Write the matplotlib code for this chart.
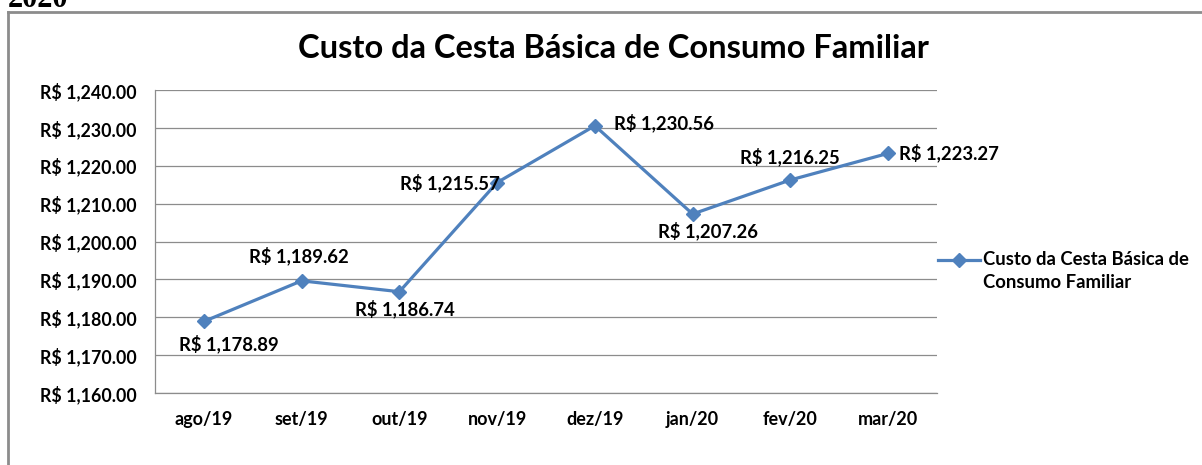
import matplotlib.pyplot as plt
from matplotlib.lines import Line2D
from matplotlib.ticker import FuncFormatter

## Data
meses = ['ago/19', 'set/19', 'out/19', 'nov/19', 'dez/19', 'jan/20', 'fev/20', 'mar/20']
custo = [1178.89, 1189.62, 1186.74, 1215.57, 1230.56, 1207.26, 1216.25, 1223.27]

serie = 'Custo da Cesta Básica de Consumo Familiar'
azul = '#4F81BD'
plt.rcParams['font.family'] = ['Lato', 'DejaVu Sans']
plt.rcParams['font.weight'] = 'bold'

W, H = 1202, 465
fig = plt.figure(figsize=(W / 100, H / 100), dpi=100)
# axes box in pixels: left 155, right 937, top 90, bottom 393
ax = fig.add_axes([155 / W, 1 - 393 / H, (937 - 155) / W, (393 - 90) / H])

x = list(range(len(meses)))
ax.plot(x, custo, color=azul, lw=2.3, marker='D', ms=7.5, zorder=3)

# data label placement (offset in points, horizontal alignment), as in the original
rotulo = [(18, -16, 'center'), (-2, 18, 'center'), (4, -12, 'center'), (2, 0, 'right'),
          (14, 2, 'left'), (11, -12, 'center'), (0, 16.5, 'center'), (8, 0, 'left')]
for xi, yi, (dx, dy, ha) in zip(x, custo, rotulo):
    ax.annotate('R$ {:,.2f}'.format(yi), (xi, yi), xytext=(dx, dy),
                textcoords='offset points', ha=ha, va='center',
                fontsize=13.3, fontweight='bold')

ax.set_xlim(-0.5, len(meses) - 0.5)
ax.set_ylim(1160, 1240)
ax.set_yticks(range(1160, 1241, 10))
ax.yaxis.set_major_formatter(FuncFormatter(lambda v, _: 'R$ {:,.2f}'.format(v)))
ax.set_xticks(x)
ax.set_xticklabels(meses, fontsize=13)
ax.tick_params(axis='both', length=0)
ax.tick_params(axis='y', pad=13, labelsize=12.8)
ax.tick_params(axis='x', pad=13)
ax.grid(axis='y', color='#8c8c8c', lw=0.9)
ax.set_axisbelow(True)
for s in ['top', 'right']:
    ax.spines[s].set_visible(False)
for s in ['left', 'bottom']:
    ax.spines[s].set_color('#8c8c8c')
    ax.spines[s].set_linewidth(0.9)

## Title
fig.text(613 / W, 1 - 48 / H, serie, ha='center', va='center',
         fontsize=23.5, fontweight='bold')

## Legend (handle lines up with the first text line, as Excel does)
fig.add_artist(Line2D([938 / W, 980 / W], [1 - 260 / H, 1 - 260 / H],
                      transform=fig.transFigure, color=azul, lw=2.3))
fig.add_artist(Line2D([959 / W], [1 - 260 / H], transform=fig.transFigure,
                      color=azul, marker='D', ms=7, lw=0))
fig.text(983 / W, 1 - 251 / H, 'Custo da Cesta Básica de\nConsumo Familiar',
         ha='left', va='top', fontsize=13.3, fontweight='bold', linespacing=1.45)

## Outer chart frame and clipped header text from the page
fig.add_artist(Line2D([8 / W, 8 / W], [1 - 12 / H, 0], transform=fig.transFigure,
                      color='#8c8c8c', lw=2))
fig.add_artist(Line2D([8 / W, 1], [1 - 12 / H, 1 - 12 / H], transform=fig.transFigure,
                      color='#8c8c8c', lw=2))
fig.text(8 / W, 1 - 7 / H, '2020', family='Liberation Serif', fontsize=22,
         fontweight='bold', ha='left', va='baseline')

fig.savefig('out.png', dpi=100)
